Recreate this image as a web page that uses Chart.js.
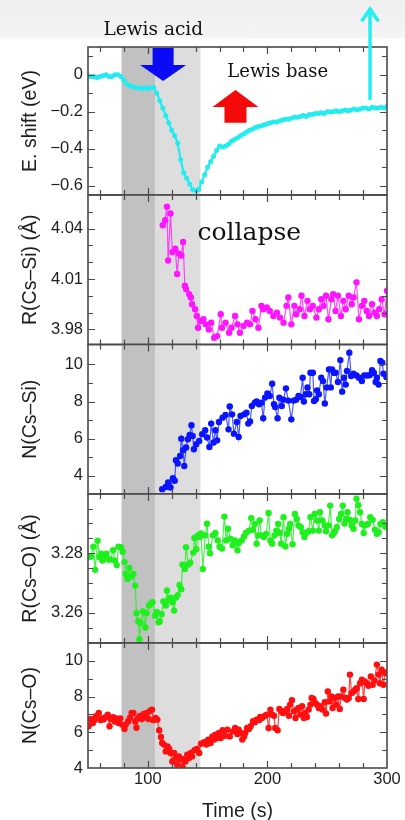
<!DOCTYPE html>
<html>
<head>
<meta charset="utf-8">
<script src="https://cdn.jsdelivr.net/npm/chart.js@4.4.1/dist/chart.umd.min.js"></script>
<style>
  body { margin: 0; background: #fff; }
  #wrap { position: relative; width: 405px; height: 820px; overflow: hidden;
    background: linear-gradient(to bottom, #efefef 0px, #f4f4f4 37px, #ffffff 39px); }
  #wrap canvas { position: absolute; left: 0; top: 0; }
</style>
</head>
<body>
<div id="wrap">
  <canvas id="p1" width="405" height="820"></canvas>
  <canvas id="p2" width="405" height="820"></canvas>
  <canvas id="p3" width="405" height="820"></canvas>
  <canvas id="p4" width="405" height="820"></canvas>
  <canvas id="p5" width="405" height="820"></canvas>
</div>
<script>
// ---- 共用時間軸 ----
const timeTicks = [60, 80, 100, 120, 140, 160, 180, 200, 220, 240, 260, 280, 300];
const timeLabels = [100, 200, 300];

// 陰影區段 (Lewis acid / collapse)
const bandStart = [78, 106];
const bandEnd = [106, 144];

// ---- E. shift (eV) ----
const eShiftTime = [50, 52.5, 55, 57.5, 60, 62.5, 65, 67.5, 70, 72.5, 75, 77.5, 80, 82.5, 85, 87.5, 90, 92.5, 95, 97.5,
  100, 102.5, 105, 107.5, 110, 112.5, 115, 117.5, 120, 122.5, 125, 127.5, 130, 132.5, 135, 137.5, 140, 142.5, 145, 147.5,
  150, 152.5, 155, 157.5, 160, 162.5, 165, 167.5, 170, 172.5, 175, 177.5, 180, 182.5, 185, 187.5, 190, 192.5, 195, 197.5,
  200, 202.5, 205, 207.5, 210, 212.5, 215, 217.5, 220, 222.5, 225, 227.5, 230, 232.5, 235, 237.5, 240, 242.5, 245, 247.5,
  250, 252.5, 255, 257.5, 260, 262.5, 265, 267.5, 270, 272.5, 275, 277.5, 280, 282.5, 285, 287.5, 290, 292.5, 295, 297.5, 300];
const eShift = [-0.005, -0.01, -0.01, -0.015, -0.01, -0.005, 0, -0.01, -0.01, 0, 0, -0.01, -0.03, -0.05, -0.06, -0.065, -0.07, -0.07, -0.075, -0.07,
  -0.075, -0.07, -0.07, -0.1, -0.14, -0.18, -0.22, -0.26, -0.3, -0.33, -0.37, -0.46, -0.53, -0.56, -0.59, -0.62, -0.625, -0.62, -0.58, -0.54,
  -0.5, -0.47, -0.44, -0.41, -0.385, -0.39, -0.385, -0.375, -0.36, -0.35, -0.34, -0.33, -0.32, -0.31, -0.3, -0.295, -0.285, -0.28, -0.275, -0.27,
  -0.265, -0.26, -0.255, -0.255, -0.25, -0.245, -0.24, -0.24, -0.235, -0.23, -0.23, -0.225, -0.22, -0.225, -0.215, -0.215, -0.21, -0.21, -0.205, -0.21,
  -0.2, -0.2, -0.2, -0.195, -0.2, -0.195, -0.19, -0.195, -0.19, -0.185, -0.19, -0.185, -0.18, -0.18, -0.185, -0.175, -0.18, -0.18, -0.175, -0.18, -0.17];
const eShiftTicks = [-0.6, -0.5, -0.4, -0.3, -0.2, -0.1, 0, 0.1];
const eShiftLabels = [-0.6, -0.4, -0.2, 0];

// ---- R(Cs–Si) (Å) ----
const rSiTime = [112.5, 114.5, 116, 117, 119, 120.5, 123, 124.5, 126, 128, 129.5, 131, 132, 134.5, 136, 137, 139.5, 141, 142, 144,
  146.5, 148.5, 151, 153, 155.5, 158, 161, 162, 165, 168, 170, 173, 175, 177, 180, 183, 185.5, 187.5, 190, 192.5,
  195, 196.5, 199.5, 202, 205, 208, 210.5, 213.5, 216, 217.5, 220, 222.5, 224, 227, 228.5, 231, 233.5, 235.5, 238, 241,
  243, 245, 247, 249, 251, 253.5, 255, 257, 259, 261.5, 263.5, 265.5, 268, 270.5, 272, 274.5, 276.5, 279, 281, 283,
  285, 287.5, 289.5, 291.5, 293.5, 295.5, 298, 300];
const rSi = [4.042, 4.045, 4.053, 4.021, 4.049, 4.026, 4.028, 4.013, 4.025, 4.024, 4.032, 4.006, 4.004, 4.001, 3.999, 3.995, 3.992, 3.988, 3.981, 3.985,
  3.986, 3.983, 3.980, 3.984, 3.975, 3.976, 3.989, 3.981, 3.984, 3.978, 3.981, 3.988, 3.983, 3.978, 3.982, 3.984, 3.983, 3.991, 3.986, 3.981,
  3.994, 3.992, 3.993, 3.991, 3.988, 3.990, 3.987, 3.984, 3.994, 3.999, 3.983, 3.994, 3.989, 3.992, 4.000, 3.988, 3.997, 3.992, 3.994, 3.987,
  3.992, 3.998, 3.994, 4.000, 3.986, 3.998, 4.001, 3.991, 4.000, 3.988, 3.997, 3.992, 4.000, 3.995, 3.999, 4.008, 3.986, 3.994, 3.997, 3.991,
  3.988, 3.995, 3.990, 3.988, 3.992, 3.998, 3.989, 4.003];
const rSiTicks = [3.98, 3.99, 4.00, 4.01, 4.02, 4.03, 4.04, 4.05];
const rSiLabels = [3.98, 4.01, 4.04];

// ---- N(Cs–Si) ----
const nSiTime = [112, 115, 117, 119, 121, 122.5, 123.5, 125, 127, 128, 129.5, 130.5, 132, 133.5, 135, 136.5, 137.5, 138.5, 140.5, 143,
  145.5, 148, 149.5, 151.5, 153, 155, 156.5, 158, 159.5, 162.5, 165, 167.5, 168.5, 170.5, 172, 174.5, 176, 177.5, 180.5, 182.5,
  184, 185.5, 187, 189.5, 191, 193, 195, 196.5, 198, 200, 202, 204, 205.5, 206.5, 208.5, 210, 212, 213.5, 215.5, 217.5,
  220, 222, 224, 226, 227.5, 229.5, 230.5, 232, 233.5, 235, 236, 238, 239, 240.5, 241.5, 243, 245, 246.5, 248, 249.5,
  251.5, 253, 254, 255.5, 257, 259, 261, 262.5, 264, 265.5, 266.5, 268.5, 270, 272, 274.5, 276.5, 279, 281, 283.5, 285.5,
  287.5, 289, 290.5, 291.5, 293, 294.5, 296, 297, 299.5];
const nSi = [3.28, 3.40, 3.64, 3.37, 3.87, 3.73, 4.84, 4.66, 5.07, 6.0, 5.38, 4.53, 5.52, 5.97, 6.2, 6.72, 6.14, 5.43, 5.7, 5.88,
  6.24, 6.45, 6.06, 5.55, 6.81, 5.79, 6.45, 5.91, 6.9, 7.13, 7.27, 6.5, 7.73, 7.31, 6.27, 6.9, 6.09, 7.22, 7.31, 7.4,
  6.81, 6.92, 7.76, 7.94, 8.0, 7.85, 7.94, 7.1, 8.21, 8.43, 8.3, 8.96, 7.85, 7.7, 7.1, 8.2, 7.76, 8.1, 8.71, 8.05,
  7.04, 8.05, 8.1, 8.3, 8.24, 9.28, 8.0, 8.39, 8.76, 8.39, 9.55, 9.55, 8.03, 8.12, 8.6, 8.39, 9.28, 9.1, 7.89, 8.76,
  9.73, 8.76, 9.73, 9.55, 9.55, 9.05, 10.23, 8.53, 9.28, 8.91, 9.64, 10.63, 9.37, 9.5, 9.4, 9.28, 9.1, 9.4, 9.4, 9.42,
  9.68, 9.55, 9.05, 9.28, 8.91, 10.18, 10.09, 9.5, 9.32];
const nSiTicks = [4, 5, 6, 7, 8, 9, 10];
const nSiLabels = [4, 6, 8, 10];

// ---- R(Cs–O) (Å) ----
const rOTime = [50.5, 52.5, 54.5, 56, 58, 59.5, 61, 62, 63.5, 65.5, 67, 69, 71, 72.5, 74, 75.5, 77.5, 79, 80.5, 81.5,
  83, 84.5, 86, 88, 89.5, 90.5, 92, 93, 94, 96, 98, 99, 101, 102.5, 104, 106, 107.5, 109, 110, 111.5,
  113, 115, 116, 117, 119, 120.5, 122, 123.5, 125, 126.5, 128, 129, 131, 132, 134, 135.5, 138, 139, 140.5, 142,
  143.5, 144.5, 146, 148, 149.5, 151, 152, 154.5, 156.5, 158.5, 160, 162, 164, 165.5, 167, 169, 171, 173, 175, 176,
  178.5, 180.5, 182, 184.5, 186.5, 188, 189.5, 191, 192, 193.5, 195, 197, 199, 201, 202.5, 204, 206, 207.5, 209, 210.5,
  211.5, 213.5, 215, 216.5, 218, 219, 221, 223, 224.5, 226, 228, 229.5, 231, 232.5, 234.5, 236, 238, 239.5, 241.5, 243,
  244, 246, 248, 249, 251, 252.5, 254, 255.5, 256.5, 258, 260, 261.5, 263, 264.5, 266, 267, 269, 270.5, 272, 273.5,
  274.5, 276, 277.5, 279, 280.5, 281.5, 284, 286, 288, 290, 291.5, 293, 294.5, 296.5, 298.5, 300];
const rO = [3.2787, 3.2789, 3.2822, 3.2744, 3.2842, 3.2787, 3.2798, 3.2775, 3.279, 3.2798, 3.2779, 3.2779, 3.281, 3.2775, 3.276, 3.2822, 3.282, 3.2805, 3.277, 3.273,
  3.2713, 3.275, 3.2721, 3.273, 3.2691, 3.2598, 3.2571, 3.2511, 3.2566, 3.2604, 3.255, 3.2598, 3.2624, 3.263, 3.2635, 3.259, 3.2602, 3.2568, 3.2571, 3.2595,
  3.2638, 3.2624, 3.2674, 3.2642, 3.265, 3.2635, 3.2607, 3.2651, 3.2659, 3.2693, 3.2679, 3.2761, 3.2747, 3.282, 3.2762, 3.2768, 3.2802, 3.2851, 3.2813, 3.286,
  3.2855, 3.2866, 3.2747, 3.286, 3.2899, 3.2822, 3.28, 3.286, 3.2868, 3.2843, 3.2822, 3.2816, 3.2923, 3.2843, 3.2882, 3.2849, 3.2827, 3.2843, 3.281, 3.2834,
  3.2843, 3.2856, 3.2868, 3.2876, 3.2918, 3.2879, 3.2898, 3.2832, 3.286, 3.291, 3.286, 3.2854, 3.2865, 3.2935, 3.2843, 3.2832, 3.286, 3.2876, 3.2898, 3.2868,
  3.2832, 3.2921, 3.2823, 3.2865, 3.2882, 3.2898, 3.283, 3.2932, 3.2915, 3.2893, 3.2887, 3.287, 3.2854, 3.2868, 3.2874, 3.2921, 3.2876, 3.2932, 3.291, 3.2876,
  3.2938, 3.291, 3.2893, 3.2874, 3.2893, 3.296, 3.286, 3.2868, 3.2874, 3.2887, 3.2915, 3.2932, 3.296, 3.29, 3.2915, 3.2938, 3.2912, 3.2893, 3.2882, 3.291,
  3.2983, 3.2961, 3.2938, 3.2898, 3.2868, 3.2893, 3.2898, 3.2921, 3.2912, 3.2879, 3.2865, 3.287, 3.2898, 3.2904, 3.289, 3.2887];
const rOTicks = [3.255, 3.26, 3.265, 3.27, 3.275, 3.28, 3.285, 3.29, 3.295];
const rOLabels = [3.26, 3.28];

// ---- N(Cs–O) ----
const nOTime = [50.5, 52, 54, 55.5, 56.5, 59, 60.5, 61.5, 63, 64.5, 66.5, 68, 69, 71, 72.5, 74, 75.5, 77, 78.5, 80.5,
  81.5, 83.5, 85, 86.5, 88, 89.5, 90.5, 92, 93.5, 95, 96.5, 98, 99, 100.5, 102, 103.5, 104.5, 106.5, 108, 109.5,
  111, 112, 113.5, 115, 116.5, 118, 119, 120.5, 122, 123.5, 124.5, 126, 127.5, 129, 130.5, 131.5, 133, 134.5, 136, 137,
  139, 141, 143, 144.5, 147, 149, 150.5, 152.5, 154, 155.5, 156.5, 158, 159.5, 161, 162.5, 164.5, 166.5, 168.5, 171, 173,
  175, 176, 177.5, 179, 180.5, 181.5, 183, 184.5, 186, 188, 189.5, 191, 193, 194, 195.5, 198, 199.5, 201, 202.5, 204,
  205.5, 206.5, 208.5, 210, 211.5, 213, 214.5, 216.5, 218, 219, 220.5, 222, 223.5, 224.5, 226, 227.5, 229, 230.5, 231.5, 233,
  234.5, 236, 237, 238.5, 240, 241.5, 243, 244, 246, 248, 249, 250.5, 252, 253.5, 254.5, 256, 257.5, 259, 260.5, 261.5,
  263.5, 265, 266.5, 268, 269, 270.5, 272, 273.5, 274.5, 276, 277.5, 279, 280.5, 281.5, 283, 284.5, 286.5, 288, 289.5, 291.5,
  293, 294, 295.5, 297, 298.5, 300];
const nO = [6.34, 6.74, 6.52, 6.69, 6.9, 7.08, 6.69, 6.78, 6.71, 6.84, 6.98, 6.34, 6.74, 6.84, 6.6, 6.78, 6.52, 6.78, 6.43, 6.18,
  6.43, 6.6, 6.8, 7.08, 7.08, 6.6, 6.25, 6.8, 6.92, 6.74, 7.03, 6.84, 7.08, 6.74, 7.21, 7.27, 6.68, 6.8, 6.71, 6.11,
  5.74, 5.4, 5.31, 4.93, 5.21, 5.06, 4.84, 4.37, 4.84, 4.56, 4.19, 4.65, 4.47, 4.09, 4.5, 4.37, 4.75, 4.56, 4.84, 4.65,
  4.99, 5.06, 4.84, 5.36, 5.44, 5.31, 5.59, 5.4, 5.77, 5.59, 5.87, 5.68, 5.96, 5.68, 6.11, 5.81, 6.15, 5.77, 6.05, 6.24,
  5.9, 6.15, 5.96, 5.59, 5.77, 5.96, 6.24, 6.19, 6.34, 6.62, 6.56, 6.71, 6.68, 6.86, 6.8, 6.93, 6.99, 6.24, 7.27, 6.99,
  6.93, 6.24, 6.11, 7.31, 7.18, 7.08, 7.18, 7.31, 6.93, 7.55, 7.79, 7.18, 6.8, 7.27, 7.36, 6.99, 7.46, 6.8, 7.08, 6.86,
  7.27, 7.55, 7.92, 7.86, 7.64, 7.55, 7.36, 7.46, 7.27, 7.68, 7.05, 8.29, 7.73, 8.0, 7.36, 7.92, 7.55, 8.0, 7.31, 8.0,
  8.38, 7.92, 7.83, 7.92, 9.23, 8.2, 8.29, 8.38, 8.47, 7.86, 8.75, 8.94, 7.86, 8.85, 8.75, 8.6, 9.13, 8.66, 8.9, 9.79,
  9.23, 8.75, 9.5, 8.66, 9.32, 9.36];
const nOTicks = [4, 5, 6, 7, 8, 9, 10];
const nOLabels = [4, 6, 8, 10];

// ---- 版面設定 ----
const PLOT_LEFT = 88;
const PLOT_RIGHT_PAD = 18;
const FRAME_COLOR = "#4a4a4a";
const TEXT_COLOR = "#1e1e1e";

Chart.defaults.font.family = '"Liberation Sans", Arial, sans-serif';
Chart.defaults.color = TEXT_COLOR;

function isIn(list, v) {
  return list.some((m) => Math.abs(m - v) < 1e-9);
}

function fmtNum(v, digits) {
  if (Math.abs(v) < 1e-9) return "0";
  const s = Math.abs(v).toFixed(digits);
  return v < 0 ? "\u2212" + s : s;
}

function toPoints(ts, vs) {
  return ts.map((t, i) => ({ x: t, y: vs[i] }));
}

// 陰影、外框與朝內刻度
const panelDecor = {
  id: "panelDecor",
  beforeDatasetsDraw(chart) {
    const { ctx, chartArea: a, scales } = chart;
    const x = scales.x;
    const shades = ["#c1c1c1", "#dddddd"];
    ctx.save();
    bandStart.forEach((s, i) => {
      const x0 = x.getPixelForValue(s);
      const x1 = x.getPixelForValue(bandEnd[i]);
      ctx.fillStyle = shades[i];
      ctx.fillRect(x0, a.top, x1 - x0, a.bottom - a.top);
    });
    ctx.restore();
  },
  afterDatasetsDraw(chart) {
    const { ctx, chartArea: a, scales } = chart;
    const x = scales.x;
    const y = scales.y;
    ctx.save();
    ctx.strokeStyle = FRAME_COLOR;
    ctx.lineWidth = 1.2;
    ctx.beginPath();
    // y 刻度 (左右兩側)
    y.ticks.forEach((t) => {
      const py = Math.round(y.getPixelForValue(t.value)) + 0.5;
      if (py <= a.top + 1 || py >= a.bottom - 1) return;
      const len = t.label ? 7 : 5;
      ctx.moveTo(a.left, py); ctx.lineTo(a.left + len, py);
      ctx.moveTo(a.right, py); ctx.lineTo(a.right - len, py);
    });
    // x 刻度 (上下兩側)
    timeTicks.forEach((v) => {
      const px = Math.round(x.getPixelForValue(v)) + 0.5;
      if (px <= a.left + 1 || px >= a.right - 1) return;
      const len = isIn(timeLabels, v) ? 7 : 5;
      ctx.moveTo(px, a.top); ctx.lineTo(px, a.top + len);
      ctx.moveTo(px, a.bottom); ctx.lineTo(px, a.bottom - len);
    });
    ctx.stroke();
    ctx.lineWidth = 1.6;
    ctx.strokeRect(a.left, a.top, a.right - a.left, a.bottom - a.top);
    ctx.restore();
  },
};

// 文字與箭頭註解 (以資料座標定位)
function blockArrow(ctx, cx, yBase, yHead, yTip, shaftHalf, headHalf, color) {
  ctx.fillStyle = color;
  ctx.beginPath();
  ctx.moveTo(cx - shaftHalf, yBase);
  ctx.lineTo(cx + shaftHalf, yBase);
  ctx.lineTo(cx + shaftHalf, yHead);
  ctx.lineTo(cx + headHalf, yHead);
  ctx.lineTo(cx, yTip);
  ctx.lineTo(cx - headHalf, yHead);
  ctx.lineTo(cx - shaftHalf, yHead);
  ctx.closePath();
  ctx.fill();
}

const notes = {
  id: "notes",
  afterDraw(chart, args, opts) {
    const { ctx, scales } = chart;
    const x = scales.x;
    const y = scales.y;
    ctx.save();
    (opts.texts || []).forEach((n) => {
      ctx.font = n.font;
      ctx.fillStyle = "#111";
      ctx.textBaseline = "alphabetic";
      ctx.textAlign = "left";
      ctx.fillText(n.text, x.getPixelForValue(n.t), y.getPixelForValue(n.v));
    });
    (opts.arrows || []).forEach((r) => {
      blockArrow(ctx, x.getPixelForValue(r.t), y.getPixelForValue(r.v0), y.getPixelForValue(r.vHead),
        y.getPixelForValue(r.vTip), r.shaft, r.head, r.color);
    });
    (opts.lines || []).forEach((r) => {
      const px = x.getPixelForValue(r.t);
      const y0 = y.getPixelForValue(r.v0);
      const yTip = y.getPixelForValue(r.vTip);
      ctx.strokeStyle = r.color;
      ctx.lineWidth = 3.5;
      ctx.beginPath();
      ctx.moveTo(px, y0);
      ctx.lineTo(px, yTip + 2);
      ctx.stroke();
      ctx.beginPath();
      ctx.moveTo(px - 8.5, yTip + 13);
      ctx.lineTo(px, yTip + 1);
      ctx.lineTo(px + 8.5, yTip + 13);
      ctx.lineJoin = "miter";
      ctx.stroke();
    });
    ctx.restore();
  },
};

// 建立單一面板
function makePanel(id, cfg) {
  const canvas = document.getElementById(id);
  const isBottom = cfg.bottomAxis === true;
  return new Chart(canvas.getContext("2d"), {
    type: "line",
    data: {
      datasets: [
        {
          data: toPoints(cfg.times, cfg.values),
          borderColor: cfg.lineColor,
          backgroundColor: cfg.color,
          borderWidth: cfg.lineWidth || 1.2,
          pointRadius: cfg.pointRadius || 3.2,
          pointBackgroundColor: cfg.color,
          pointBorderWidth: 0,
          tension: 0,
        },
      ],
    },
    options: {
      responsive: false,
      animation: false,
      devicePixelRatio: 1,
      layout: {
        padding: {
          left: 0,
          right: PLOT_RIGHT_PAD,
          top: cfg.top,
          bottom: isBottom ? 0 : 820 - cfg.bottom,
        },
      },
      plugins: {
        legend: { display: false },
        tooltip: { enabled: false },
        notes: cfg.notes || {},
      },
      scales: {
        x: {
          type: "linear",
          min: 50,
          max: 300,
          display: isBottom,
          grid: { display: false, drawTicks: false, tickLength: 0 },
          border: { display: false },
          afterFit: (s) => { s.height = isBottom ? 820 - cfg.bottom : 0; },
          afterBuildTicks: (s) => { s.ticks = timeTicks.map((v) => ({ value: v })); },
          ticks: {
            autoSkip: false,
            maxRotation: 0,
            padding: 2,
            font: { size: 16.5 },
            callback: (v) => (isIn(timeLabels, v) ? String(v) : ""),
          },
          title: {
            display: isBottom,
            text: "Time (s)",
            font: { size: 19.5 },
            padding: { top: 0, bottom: -3 },
          },
        },
        y: {
          type: "linear",
          min: cfg.min,
          max: cfg.max,
          grid: { display: false, drawTicks: false, tickLength: 0 },
          border: { display: false },
          afterFit: (s) => { s.width = PLOT_LEFT; },
          afterBuildTicks: (s) => { s.ticks = cfg.ticks.map((v) => ({ value: v })); },
          ticks: {
            autoSkip: false,
            padding: 5,
            font: { size: 16.5 },
            callback: (v) => (isIn(cfg.labels, v) ? fmtNum(v, cfg.digits) : ""),
          },
          title: {
            display: true,
            text: cfg.title,
            font: { size: 19.5 },
            padding: { top: 19, bottom: 0 },
          },
        },
      },
    },
    plugins: [panelDecor, notes],
  });
}

makePanel("p1", {
  top: 47, bottom: 195, min: -0.65, max: 0.15,
  times: eShiftTime, values: eShift, ticks: eShiftTicks, labels: eShiftLabels, digits: 1,
  title: "E. shift (eV)", color: "#22ecef", lineColor: "#22ecef", lineWidth: 2.2, pointRadius: 2.5,
  notes: {
    texts: [
      { text: "Lewis acid", t: 63, v: 0.215, font: '18.5px "DejaVu Serif", serif' },
      { text: "Lewis base", t: 166.5, v: -0.012, font: '18px "DejaVu Serif", serif' },
    ],
    arrows: [
      { t: 112.8, v0: 0.145, vHead: 0.053, vTip: -0.034, shaft: 10.5, head: 23, color: "#0a0af5" },
      { t: 173.3, v0: -0.259, vHead: -0.174, vTip: -0.082, shaft: 11, head: 23, color: "#f50a0a" },
    ],
    lines: [{ t: 285.8, v0: -0.136, vTip: 0.36, color: "#22f0f0" }],
  },
});

makePanel("p2", {
  top: 195, bottom: 344.5, min: 3.971, max: 4.06,
  times: rSiTime, values: rSi, ticks: rSiTicks, labels: rSiLabels, digits: 2,
  title: "R(Cs\u2013Si) (\u00c5)", color: "#ff14ff", lineColor: "rgba(255,40,255,0.85)",
  notes: {
    texts: [{ text: "collapse", t: 141.5, v: 4.033, font: '25px "DejaVu Serif", serif' }],
  },
});

makePanel("p3", {
  top: 344.5, bottom: 494, min: 3.02, max: 11.07,
  times: nSiTime, values: nSi, ticks: nSiTicks, labels: nSiLabels, digits: 0,
  title: "N(Cs\u2013Si)", color: "#0a14ff", lineColor: "rgba(40,60,255,0.85)",
});

makePanel("p4", {
  top: 494, bottom: 643, min: 3.2498, max: 3.2999,
  times: rOTime, values: rO, ticks: rOTicks, labels: rOLabels, digits: 2,
  title: "R(Cs\u2013O) (\u00c5)", color: "#1ef01e", lineColor: "rgba(40,240,40,0.85)",
});

makePanel("p5", {
  top: 643, bottom: 768, min: 4, max: 11,
  times: nOTime, values: nO, ticks: nOTicks, labels: nOLabels, digits: 0,
  title: "N(Cs\u2013O)", color: "#ff0f0f", lineColor: "rgba(255,40,40,0.85)",
  bottomAxis: true,
});
</script>
</body>
</html>
